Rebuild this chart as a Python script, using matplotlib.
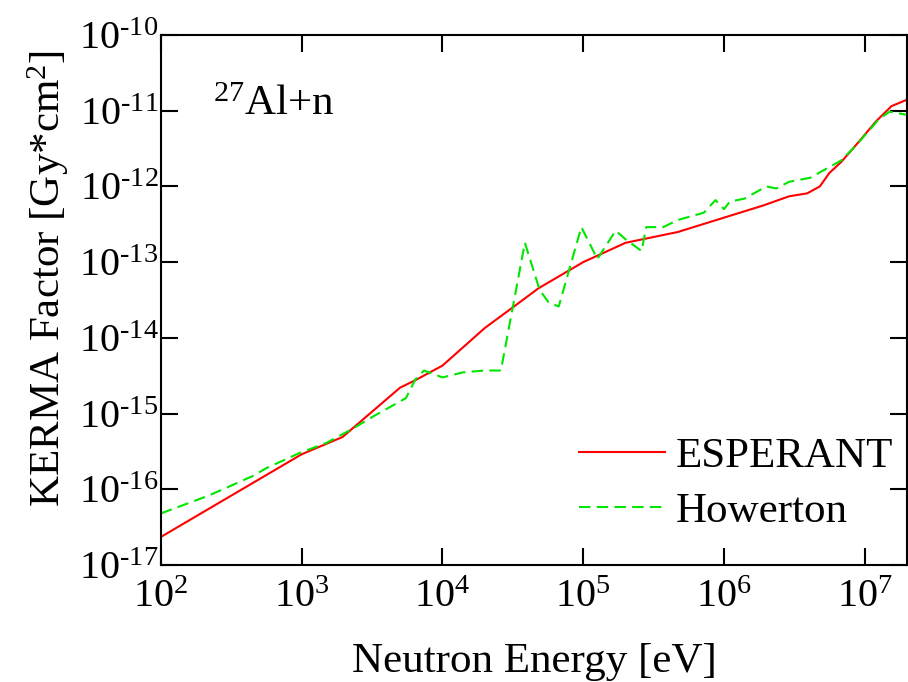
import matplotlib
matplotlib.use("Agg")
import matplotlib.pyplot as plt
import numpy as np
from matplotlib.ticker import LogLocator, NullLocator, FuncFormatter

plt.rcParams['font.family'] = ['Liberation Serif', 'DejaVu Serif']
plt.rcParams['mathtext.fontset'] = 'custom'
plt.rcParams['mathtext.rm'] = 'Liberation Serif'
plt.rcParams['mathtext.it'] = 'Liberation Serif:italic'
plt.rcParams['axes.unicode_minus'] = False

# ESPERANT (red, solid)
esp_e = [1e2, 1e3, 1.95e3, 5e3, 6.4e3, 1e4, 2e4, 3.2e4, 4.8e4, 1e5, 2e5, 4.7e5,
         1.9e6, 2.9e6, 3.9e6, 4.8e6, 5.6e6, 6.8e6, 8.3e6, 9.8e6, 1.2e7, 1.55e7, 2e7]
esp_k = [2.35e-17, 2.9e-16, 4.9e-16, 2.2e-15, 2.75e-15, 4.3e-15, 1.35e-14, 2.57e-14,
         4.5e-14, 1.0e-13, 1.8e-13, 2.5e-13, 5.6e-13, 7.4e-13, 8.1e-13, 1.0e-12,
         1.5e-12, 2.1e-12, 3.2e-12, 4.6e-12, 7.2e-12, 1.15e-11, 1.4e-11]

# Howerton (green, dashed)
how_e = [1e2, 2.2e2, 4.5e2, 5.6e2, 9.6e2, 1.5e3, 2.3e3, 3.2e3, 5.5e3, 6.4e3, 7.4e3,
         1e4, 1.4e4, 2e4, 2.6e4, 3.85e4, 4.9e4, 5.7e4, 6.7e4, 9.7e4, 1.26e5, 1.7e5,
         2.0e5, 2.6e5, 2.8e5, 3.7e5, 4.7e5, 7.2e5, 8.7e5, 1e6, 1.1e6, 1.4e6, 2e6,
         2.35e6, 2.9e6, 4.1e6, 5e6, 6.8e6, 8.7e6, 1.26e7, 1.5e7, 2e7]
how_k = [4.8e-17, 8.3e-17, 1.5e-16, 1.9e-16, 3.0e-16, 4.1e-16, 6.3e-16, 9.1e-16,
         1.6e-15, 2.8e-15, 3.7e-15, 3.0e-15, 3.5e-15, 3.7e-15, 3.7e-15, 1.8e-13,
         4.3e-14, 2.9e-14, 2.6e-14, 2.9e-13, 1.1e-13, 2.6e-13, 2.0e-13, 1.4e-13,
         2.9e-13, 2.9e-13, 3.6e-13, 4.5e-13, 6.6e-13, 5.0e-13, 6.3e-13, 6.9e-13,
         1.0e-12, 9.4e-13, 1.15e-12, 1.3e-12, 1.6e-12, 2.2e-12, 3.5e-12, 7.7e-12,
         9.7e-12, 8.8e-12]


def pow10(v, pos):
    # exponent written with a plain hyphen, like the original
    e = int(round(np.log10(v)))
    if e < 0:
        return r'$10^{\text{-}%d}$' % (-e)
    return r'$10^{%d}$' % e


fig = plt.figure(figsize=(9.08, 6.82), dpi=100)
ax = fig.add_axes([0.1773, 0.1716, 0.8217, 0.7771])

ax.plot(esp_e, esp_k, color='#ff0000', lw=1.5, label='ESPERANT')
ax.plot(how_e, how_k, color='#00e600', lw=1.5, dashes=(5.5, 3), label='Howerton')

ax.set_xscale('log')
ax.set_yscale('log')
ax.set_xlim(1e2, 2e7)
ax.set_ylim(1e-17, 1e-10)
ax.xaxis.set_major_locator(LogLocator(base=10, numticks=20))
ax.yaxis.set_major_locator(LogLocator(base=10, numticks=20))
ax.xaxis.set_minor_locator(NullLocator())
ax.yaxis.set_minor_locator(NullLocator())
ax.xaxis.set_major_formatter(FuncFormatter(pow10))
ax.yaxis.set_major_formatter(FuncFormatter(pow10))

ax.tick_params(which='major', direction='in', length=12, width=1.5,
               top=True, right=True, labelsize=29)
ax.tick_params(axis='x', pad=10)
ax.tick_params(axis='y', pad=2)
for s in ax.spines.values():
    s.set_linewidth(1.5)

ax.set_xlabel('Neutron Energy [eV]', fontsize=31, labelpad=19)
ax.set_ylabel('KERMA Factor [Gy*cm$^2$]', fontsize=31, labelpad=0)
ax.yaxis.set_label_coords(-0.121, 0.54)
ax.text(0.07, 0.849, '$^{27}$Al+n', transform=ax.transAxes, fontsize=31)

leg = ax.legend(loc='lower right', fontsize=31, frameon=False, handlelength=2.0,
                handletextpad=0.25, borderaxespad=0.0, borderpad=0.4,
                labelspacing=0.37, bbox_to_anchor=(1.005, 0.032))

fig.savefig('out.png', dpi=100)
